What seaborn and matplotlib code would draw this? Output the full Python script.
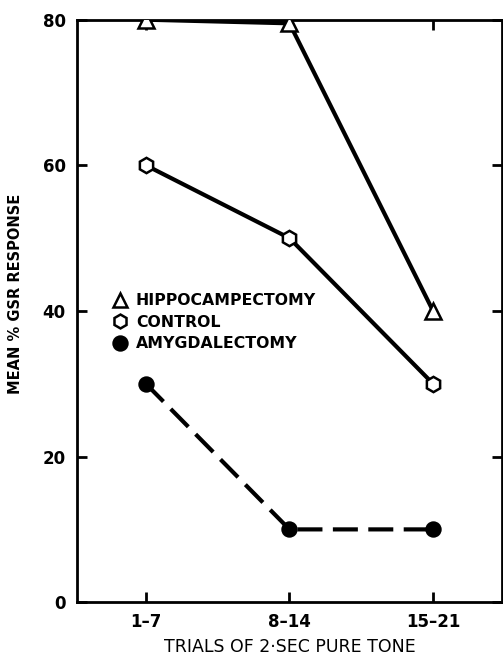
import pandas as pd
import matplotlib
matplotlib.use("Agg")
import matplotlib.pyplot as plt
import seaborn as sns
from matplotlib.lines import Line2D

# data
trials = ["1\u20137", "8\u201314", "15\u201321"]
hippocampectomy = [80, 79.5, 40]
control = [60, 50, 30]
amygdalectomy = [30, 10, 10]

sns.set_theme(style="ticks")
plt.rcParams["font.family"] = ["DejaVu Sans"]
plt.rcParams["text.color"] = "black"
plt.rcParams["axes.labelcolor"] = "black"
plt.rcParams["xtick.color"] = "black"
plt.rcParams["ytick.color"] = "black"

df = pd.DataFrame({
    "pos": list(range(len(trials))) * 3,
    "value": hippocampectomy + control + amygdalectomy,
    "group": ["HIPPOCAMPECTOMY"] * 3 + ["CONTROL"] * 3 + ["AMYGDALECTOMY"] * 3,
})

fig = plt.figure(figsize=(5.03, 6.56), dpi=100)
ax = fig.add_axes([0.153, 0.082, 0.845, 0.888])

styles = {
    "HIPPOCAMPECTOMY": dict(marker="^", mfc="white", ls="-", ms=11),
    "CONTROL": dict(marker="h", mfc="white", ls="-", ms=11),
    "AMYGDALECTOMY": dict(marker="o", mfc="black", ls=(0, (6, 2.5)), ms=10),
}

for name, st in styles.items():
    sub = df[df["group"] == name]
    sns.lineplot(data=sub, x="pos", y="value", ax=ax, color="black",
                 lw=3, linestyle=st["ls"], marker=st["marker"],
                 markersize=st["ms"], markerfacecolor=st["mfc"],
                 markeredgecolor="black", markeredgewidth=1.8, legend=False,
                 zorder=3)

ax.set_xlim(-0.48, 2.48)
ax.set_ylim(0, 80)
ax.set_xticks(range(len(trials)))
ax.set_xticklabels(trials)
ax.set_yticks([0, 20, 40, 60, 80])
ax.tick_params(direction="in", length=7, width=2, top=True, right=True,
               labelsize=12, pad=8, colors="black")
for lab in ax.get_xticklabels() + ax.get_yticklabels():
    lab.set_fontweight("bold")
for sp in ax.spines.values():
    sp.set_linewidth(2)
    sp.set_color("black")

ax.set_xlabel("TRIALS OF 2\u00b7SEC PURE TONE", fontsize=12.5, fontweight="normal")
ax.xaxis.set_label_coords(0.5, -0.062)
ax.set_ylabel("MEAN % GSR RESPONSE", fontsize=10.5, fontweight="bold")
ax.yaxis.set_label_coords(-0.127, 0.53)

handles = [Line2D([], [], ls="none", color="black", marker=st["marker"],
                  mfc=st["mfc"], mec="black", mew=1.8, ms=10)
           for st in styles.values()]
leg = ax.legend(handles, list(styles.keys()), loc="upper left",
                bbox_to_anchor=(0.05, 0.555), frameon=False, handletextpad=0.5,
                labelspacing=0.42, handlelength=1.0,
                prop={"size": 11.3, "weight": "bold"})

fig.savefig("out.png", dpi=100, facecolor="white")
